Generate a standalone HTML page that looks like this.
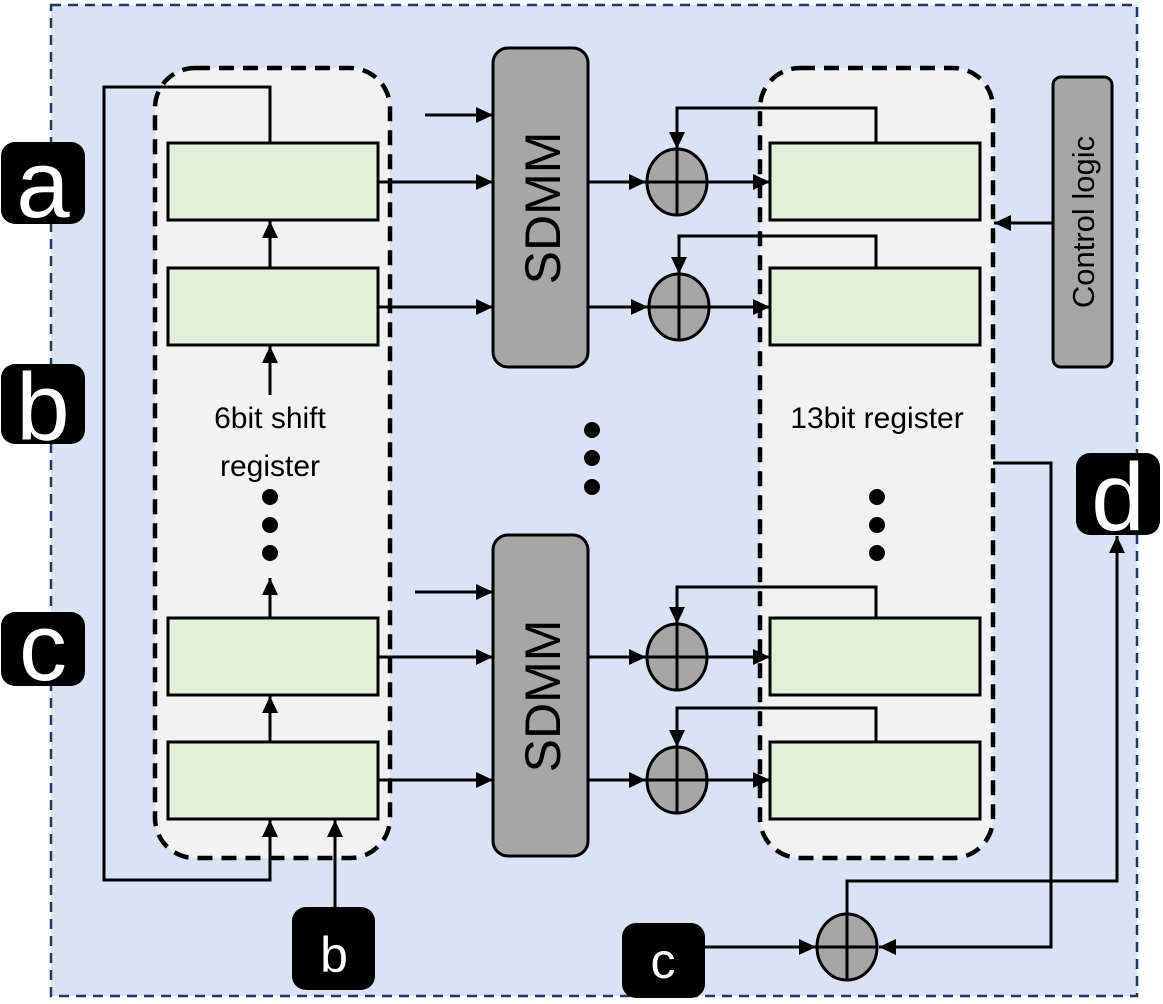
<!DOCTYPE html>
<html><head><style>body{margin:0;background:#fff}svg{display:block}</style></head><body>
<svg width="1163" height="1004" viewBox="0 0 1163 1004" xmlns="http://www.w3.org/2000/svg" font-family="Liberation Sans, sans-serif">
<defs>
<marker id="a2" markerWidth="18" markerHeight="18" refX="17" refY="8" orient="auto" markerUnits="userSpaceOnUse"><path d="M0,0 L17,8 L0,16 z" fill="#000"/></marker></defs>
<rect x="51" y="5" width="1086" height="991" fill="#dae3f3" stroke="#1f3864" stroke-width="2.5" stroke-dasharray="10,7"/>
<rect x="155" y="68" width="235" height="790" rx="40" fill="#f2f2f2" stroke="#000" stroke-width="4.5" stroke-dasharray="15,9"/>
<rect x="760" y="68" width="233" height="790" rx="40" fill="#f2f2f2" stroke="#000" stroke-width="4.5" stroke-dasharray="15,9"/>
<g fill="#e2efda" stroke="#000" stroke-width="3">
<rect x="168" y="143" width="210" height="77"/><rect x="168" y="268" width="210" height="77"/><rect x="168" y="618" width="210" height="77"/><rect x="168" y="742" width="210" height="77"/>
<rect x="770" y="143" width="210" height="77"/><rect x="770" y="268" width="210" height="77"/><rect x="770" y="618" width="210" height="77"/><rect x="770" y="742" width="210" height="77"/>
</g>
<g fill="none" stroke="#000" stroke-width="3">
<polyline points="270,143 270,87 104,87 104,880 270,880 270,820" marker-end="url(#a2)"/>
<line x1="335" y1="907" x2="335" y2="820" marker-end="url(#a2)"/>
<line x1="270" y1="268" x2="270" y2="221" marker-end="url(#a2)"/>
<line x1="270" y1="395" x2="270" y2="346" marker-end="url(#a2)"/>
<line x1="270" y1="618" x2="270" y2="578" marker-end="url(#a2)"/>
<line x1="270" y1="742" x2="270" y2="696" marker-end="url(#a2)"/>
<line x1="425" y1="115" x2="493" y2="115" marker-end="url(#a2)"/>
<line x1="378" y1="182" x2="493" y2="182" marker-end="url(#a2)"/>
<line x1="378" y1="307" x2="493" y2="307" marker-end="url(#a2)"/>
<line x1="415" y1="592" x2="493" y2="592" marker-end="url(#a2)"/>
<line x1="378" y1="657" x2="493" y2="657" marker-end="url(#a2)"/>
<line x1="378" y1="780" x2="493" y2="780" marker-end="url(#a2)"/>
<line x1="588" y1="182" x2="646" y2="182" marker-end="url(#a2)"/>
<line x1="588" y1="307" x2="648" y2="307" marker-end="url(#a2)"/>
<line x1="588" y1="657" x2="646" y2="657" marker-end="url(#a2)"/>
<line x1="588" y1="780" x2="646" y2="780" marker-end="url(#a2)"/>
<line x1="707" y1="182" x2="770" y2="182" marker-end="url(#a2)"/>
<line x1="710" y1="307" x2="770" y2="307" marker-end="url(#a2)"/>
<line x1="707" y1="657" x2="770" y2="657" marker-end="url(#a2)"/>
<line x1="707" y1="780" x2="770" y2="780" marker-end="url(#a2)"/>
<polyline points="876,143 876,108 677,108 677,149" marker-end="url(#a2)"/>
<polyline points="876,268 876,236 679,236 679,274" marker-end="url(#a2)"/>
<polyline points="876,618 876,587 677,587 677,624" marker-end="url(#a2)"/>
<polyline points="876,742 876,708 677,708 677,747" marker-end="url(#a2)"/>
<line x1="1053" y1="223" x2="994" y2="223" marker-end="url(#a2)"/>
<polyline points="993,463 1051,463 1051,947 879,947" marker-end="url(#a2)"/>
<line x1="705" y1="947" x2="816" y2="947" marker-end="url(#a2)"/>
<polyline points="847,915 847,881 1117,881 1117,536" marker-end="url(#a2)"/>
</g>
<g fill="#a6a6a6" stroke="#000" stroke-width="3">
<rect x="493" y="48" width="95" height="319" rx="15"/><rect x="493" y="535" width="95" height="321" rx="15"/>
<rect x="1053" y="77" width="59" height="290" rx="8"/>
<ellipse cx="677" cy="182" rx="30" ry="33"/><ellipse cx="679" cy="307" rx="30" ry="33"/>
<ellipse cx="677" cy="657" rx="30" ry="33"/><ellipse cx="677" cy="780" rx="30" ry="33"/>
<ellipse cx="847" cy="947" rx="30" ry="33"/>
</g>
<g stroke="#000" stroke-width="3">
<line x1="647" y1="182" x2="707" y2="182"/><line x1="677" y1="149" x2="677" y2="215"/>
<line x1="649" y1="307" x2="709" y2="307"/><line x1="679" y1="274" x2="679" y2="340"/>
<line x1="647" y1="657" x2="707" y2="657"/><line x1="677" y1="624" x2="677" y2="690"/>
<line x1="647" y1="780" x2="707" y2="780"/><line x1="677" y1="747" x2="677" y2="813"/>
<line x1="817" y1="947" x2="877" y2="947"/><line x1="847" y1="914" x2="847" y2="980"/>
</g>
<g fill="#000">
<circle cx="270" cy="497" r="8"/><circle cx="270" cy="525" r="8"/><circle cx="270" cy="553" r="8"/>
<circle cx="592" cy="430" r="8"/><circle cx="592" cy="458" r="8"/><circle cx="592" cy="487" r="8"/>
<circle cx="877" cy="497" r="8"/><circle cx="877" cy="525" r="8"/><circle cx="877" cy="553" r="8"/>
<rect x="1" y="142" width="84" height="82" rx="14"/>
<rect x="1" y="364" width="84" height="80" rx="14"/>
<rect x="1" y="612" width="84" height="74" rx="14"/>
<rect x="1076" y="453" width="84" height="82" rx="14"/>
<rect x="292" y="907" width="83" height="83" rx="14"/>
<rect x="622" y="923" width="83" height="75" rx="14"/>
</g>
<g fill="#fff" text-anchor="middle">
<text x="43" y="217" font-size="96">a</text>
<text x="43" y="440" font-size="96">b</text>
<text x="43" y="680" font-size="96">c</text>
<text x="1118" y="530" font-size="96">d</text>
<text x="334" y="972" font-size="50">b</text>
<text x="663" y="978" font-size="50">c</text>
</g>
<g fill="#000" text-anchor="middle" font-size="30">
<text x="270" y="428">6bit shift</text><text x="270" y="476">register</text>
<text x="877" y="428">13bit register</text>
</g>
<text transform="translate(560,208) rotate(-90)" text-anchor="middle" font-size="50" fill="#000">SDMM</text>
<text transform="translate(560,696) rotate(-90)" text-anchor="middle" font-size="50" fill="#000">SDMM</text>
<text transform="translate(1094,222) rotate(-90)" text-anchor="middle" font-size="31" fill="#000">Control logic</text>
</svg>
</body></html>
